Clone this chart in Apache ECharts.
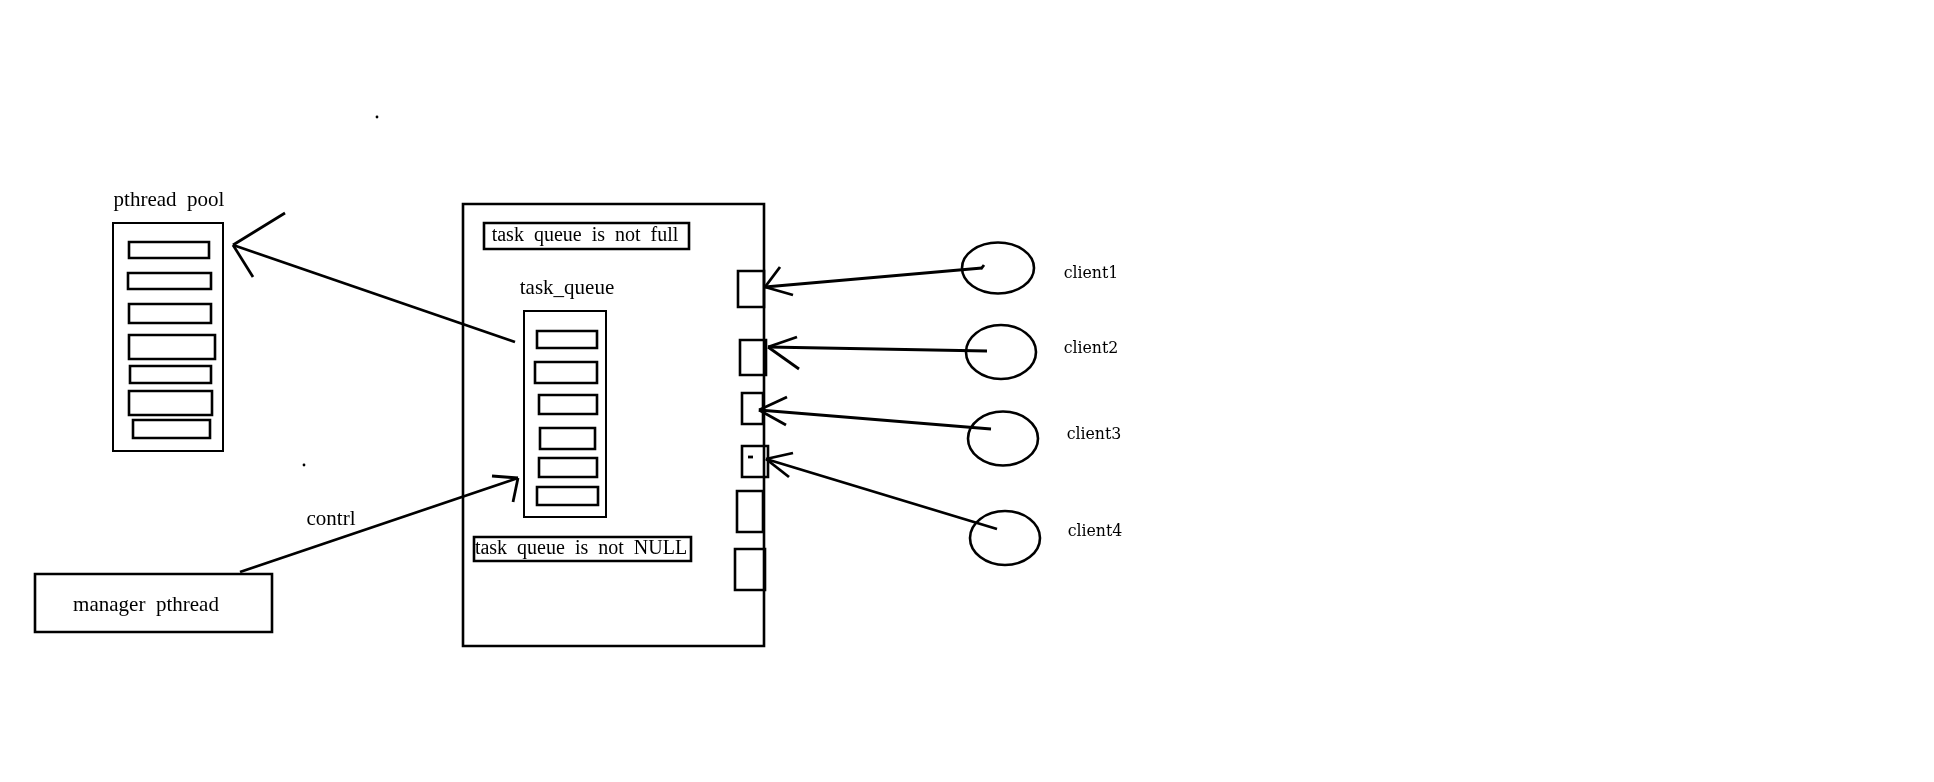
<!DOCTYPE html>
<html>
<head>
<meta charset="utf-8">
<script src="https://cdn.jsdelivr.net/npm/echarts@6/dist/echarts.min.js"></script>
<style>
html,body{margin:0;padding:0;background:#fff;}
#main{width:1934px;height:782px;}
</style>
</head>
<body>
<div id="main"></div>
<script>
// Diagram coordinates in a 1934 x 782 value space (y grows downward)
const frames = [            // thin outlines [x1, y1, x2, y2]
  [113, 223, 223, 451],     // pthread pool
  [524, 311, 606, 517]      // task_queue
];
const boxes = [             // thick outlines [x1, y1, x2, y2]
  [35, 574, 272, 632],      // manager pthread
  [463, 204, 764, 646],     // main container
  [484, 223, 689, 249],     // note: not full
  [474, 537, 691, 561],     // note: not NULL
  [129, 242, 209, 258], [128, 273, 211, 289], [129, 304, 211, 323], [129, 335, 215, 359],
  [130, 366, 211, 383], [129, 391, 212, 415], [133, 420, 210, 438],
  [537, 331, 597, 348], [535, 362, 597, 383], [539, 395, 597, 414],
  [540, 428, 595, 449], [539, 458, 597, 477], [537, 487, 598, 505],
  [738, 271, 764, 307], [740, 340, 766, 375], [742, 393, 763, 424],
  [742, 446, 768, 477], [737, 491, 763, 532], [735, 549, 765, 590]
];
const segments = [          // [x1, y1, x2, y2]
  [515, 342, 233, 245], [233, 245, 285, 213], [233, 245, 253, 277],
  [240, 572, 518, 478], [492, 476, 518, 478], [518, 478, 513, 502],
  [982, 268, 765, 287], [765, 287, 780, 267], [765, 287, 793, 295], [981, 269, 984, 265],
  [987, 351, 768, 347], [768, 347, 797, 337], [768, 347, 799, 369],
  [991, 429, 759, 410], [759, 410, 787, 397], [759, 410, 786, 425],
  [997, 529, 766, 459], [766, 459, 793, 453], [766, 459, 789, 477],
  [748, 457, 753, 457]
];
const ellipses = [          // [cx, cy, rx, ry]
  [998, 268, 36, 25.5], [1001, 352, 35, 27], [1003, 438.5, 35, 27], [1005, 538, 35, 27]
];
const dots = [[377, 117], [304, 465]];
const labels = [            // [x, y, text]
  [169, 200, 'pthread  pool'],
  [567, 288, 'task_queue'],
  [331, 519, 'contrl'],
  [146, 605, 'manager  pthread']
];
const noteLabels = [
  [585, 236, 'task  queue  is  not  full'],
  [581, 549, 'task  queue  is  not  NULL']
];
const clientLabels = [
  [1091, 273, 'client1'], [1091, 348, 'client2'], [1094, 434, 'client3'], [1095, 531, 'client4']
];

const chart = echarts.init(document.getElementById('main'), null, {renderer: 'canvas'});

function rectSeries(data, lw) {
  return {
    type: 'custom', data: data, silent: true,
    renderItem: function (params, api) {
      const p1 = api.coord([api.value(0), api.value(1)]);
      const p2 = api.coord([api.value(2), api.value(3)]);
      return {
        type: 'rect',
        shape: {x: Math.min(p1[0], p2[0]), y: Math.min(p1[1], p2[1]),
                width: Math.abs(p2[0] - p1[0]), height: Math.abs(p2[1] - p1[1])},
        style: {fill: 'none', stroke: '#000', lineWidth: lw}
      };
    }
  };
}
function textSeries(data, font) {
  return {
    type: 'custom', data: data, silent: true,
    renderItem: function (params, api) {
      const p = api.coord([api.value(0), api.value(1)]);
      return {
        type: 'text',
        style: {text: data[params.dataIndex][2], x: p[0], y: p[1], font: font,
                fill: '#000', align: 'center', verticalAlign: 'middle'}
      };
    }
  };
}

chart.setOption({
  animation: false,
  backgroundColor: '#fff',
  grid: {left: 0, right: 0, top: 0, bottom: 0},
  xAxis: {type: 'value', min: 0, max: 1934, show: false},
  yAxis: {type: 'value', min: 0, max: 782, inverse: true, show: false},
  series: [
    rectSeries(frames, 2),
    rectSeries(boxes, 2.6),
    {
      type: 'custom', data: segments, silent: true,
      renderItem: function (params, api) {
        const p1 = api.coord([api.value(0), api.value(1)]);
        const p2 = api.coord([api.value(2), api.value(3)]);
        return {
          type: 'line',
          shape: {x1: p1[0], y1: p1[1], x2: p2[0], y2: p2[1]},
          style: {stroke: '#000', lineWidth: 2.8, lineCap: 'butt'}
        };
      }
    },
    {
      type: 'custom', data: ellipses, silent: true,
      renderItem: function (params, api) {
        const c = api.coord([api.value(0), api.value(1)]);
        const e = api.coord([api.value(0) + api.value(2), api.value(1) + api.value(3)]);
        return {
          type: 'ellipse',
          shape: {cx: c[0], cy: c[1], rx: Math.abs(e[0] - c[0]), ry: Math.abs(e[1] - c[1])},
          style: {fill: 'none', stroke: '#000', lineWidth: 2.6}
        };
      }
    },
    {
      type: 'custom', data: dots, silent: true,
      renderItem: function (params, api) {
        const c = api.coord([api.value(0), api.value(1)]);
        return {type: 'circle', shape: {cx: c[0], cy: c[1], r: 1.4}, style: {fill: '#000'}};
      }
    },
    textSeries(labels, '21px "Liberation Serif"'),
    textSeries(noteLabels, '20px "Liberation Serif"'),
    textSeries(clientLabels, '17.5px "DejaVu Serif Condensed", "DejaVu Serif"')
  ]
});
</script>
</body>
</html>
